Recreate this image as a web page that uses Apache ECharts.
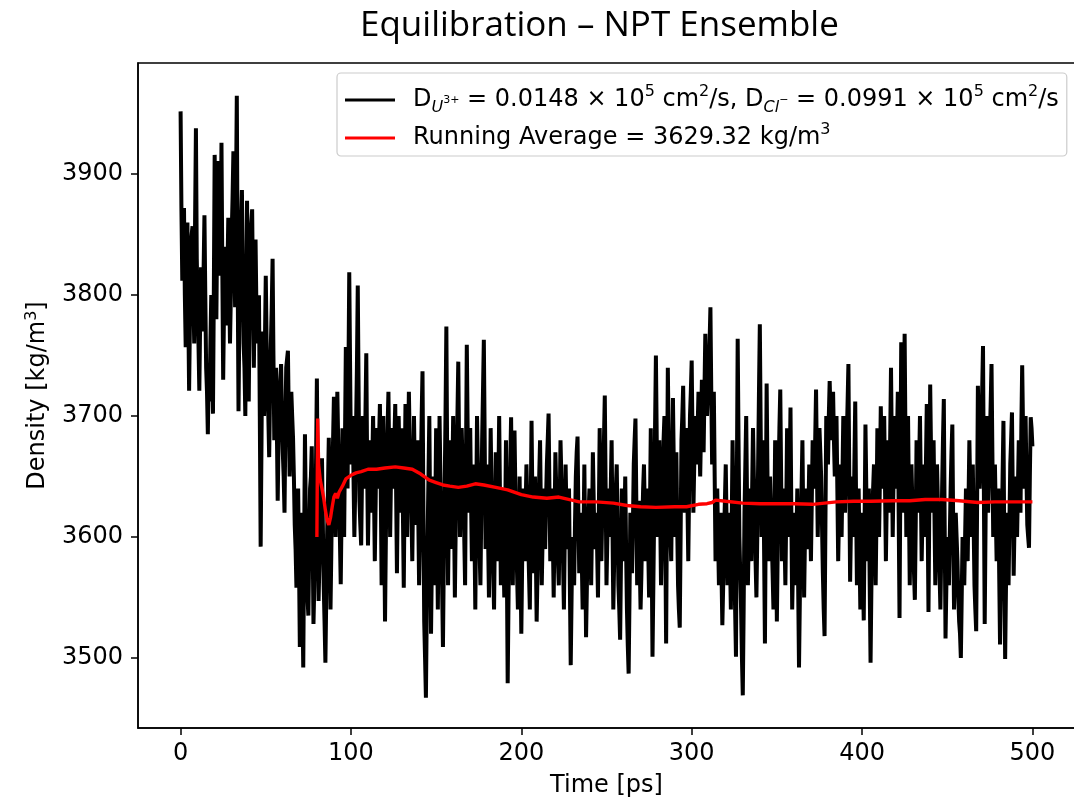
<!DOCTYPE html>
<html>
<head>
<meta charset="utf-8">
<script src="https://cdn.jsdelivr.net/npm/echarts@6/dist/echarts.min.js"></script>
<style>
html,body{margin:0;padding:0;background:#fff;}
#chart{width:1074px;height:801px;}
</style>
</head>
<body>
<div id="chart"></div>
<script>
// ---- data ----
const titleText = 'Equilibration \u2013 NPT Ensemble';
const xAxisTitle = 'Time [ps]';
const yAxisTitle = 'Density [kg/m3]';
const xTickValues = [0, 100, 200, 300, 400, 500];
const yTickValues = [3500, 3600, 3700, 3800, 3900];
const seriesNames = [
  'D_U3+ = 0.0148 \u00d7 10^5 cm^2/s, D_Cl- = 0.0991 \u00d7 10^5 cm^2/s',
  'Running Average = 3629.32 kg/m^3'
];
// density at whole picoseconds, 0 .. 500 ps
const densityValues = [
  3952,3812,3872,3757,3860,3721,3840,3857,3760,3938,
  3790,3721,3823,3770,3866,3740,3685,3712,3800,3702,
  3916,3780,3911,3816,3926,3730,3840,3775,3864,3760,
  3850,3919,3790,3965,3704,3840,3887,3760,3700,3878,
  3712,3850,3871,3740,3846,3760,3800,3592,3770,3700,
  3816,3720,3666,3760,3830,3680,3740,3630,3720,3743,
  3670,3620,3740,3754,3650,3720,3682,3610,3558,3640,
  3509,3620,3492,3685,3560,3535,3640,3675,3528,3600,
  3731,3547,3620,3665,3560,3496,3600,3682,3540,3650,
  3716,3600,3720,3640,3561,3690,3600,3757,3640,3819,
  3660,3700,3600,3690,3808,3630,3593,3700,3640,3752,
  3593,3680,3620,3700,3580,3690,3640,3710,3560,3700,
  3530,3660,3720,3600,3690,3640,3710,3570,3700,3620,
  3690,3558,3710,3600,3720,3650,3580,3700,3610,3680,
  3560,3650,3737,3530,3467,3600,3700,3520,3650,3560,
  3690,3540,3700,3600,3509,3640,3774,3560,3680,3590,
  3700,3550,3660,3745,3600,3690,3640,3560,3759,3620,
  3690,3580,3660,3540,3700,3620,3560,3680,3763,3590,
  3660,3550,3690,3600,3540,3670,3580,3700,3560,3640,
  3550,3680,3479,3620,3699,3560,3688,3600,3540,3650,
  3520,3640,3580,3660,3600,3540,3696,3570,3650,3530,
  3620,3680,3560,3640,3590,3660,3702,3580,3640,3550,
  3670,3600,3560,3680,3620,3540,3660,3590,3640,3494,
  3600,3560,3650,3683,3570,3620,3540,3660,3517,3600,
  3640,3560,3670,3590,3620,3550,3690,3580,3650,3717,
  3560,3640,3600,3680,3540,3620,3660,3560,3515,3640,
  3580,3650,3540,3487,3620,3570,3660,3698,3560,3630,
  3540,3610,3660,3580,3640,3550,3690,3501,3620,3750,
  3600,3680,3560,3650,3700,3512,3740,3620,3580,3715,
  3600,3670,3560,3525,3680,3725,3620,3690,3580,3700,
  3746,3620,3700,3660,3720,3650,3730,3670,3768,3700,
  3740,3790,3660,3720,3580,3640,3560,3620,3527,3600,
  3660,3560,3620,3540,3680,3580,3501,3764,3600,3540,
  3469,3620,3700,3560,3640,3580,3690,3620,3550,3660,
  3776,3600,3680,3512,3727,3580,3650,3600,3540,3680,
  3530,3650,3722,3580,3640,3560,3690,3600,3707,3540,
  3620,3560,3640,3492,3600,3680,3550,3640,3590,3660,
  3580,3680,3640,3722,3600,3690,3650,3570,3518,3700,
  3660,3729,3680,3720,3650,3700,3580,3660,3600,3700,
  3620,3680,3743,3563,3650,3600,3712,3560,3640,3540,
  3620,3531,3693,3580,3640,3496,3620,3660,3560,3690,
  3600,3708,3640,3700,3580,3680,3620,3740,3600,3700,
  3640,3720,3533,3761,3620,3768,3600,3700,3560,3660,
  3600,3548,3680,3620,3700,3580,3660,3600,3710,3538,
  3726,3620,3680,3560,3660,3600,3540,3640,3714,3516,
  3600,3560,3640,3693,3540,3620,3580,3530,3500,3600,
  3560,3640,3580,3680,3600,3660,3560,3522,3725,3640,
  3680,3758,3528,3700,3620,3680,3743,3600,3660,3580,
  3640,3511,3600,3696,3499,3620,3560,3660,3703,3568,
  3650,3600,3680,3620,3742,3640,3700,3610,3591,3699,
  3675
];
// density at half picoseconds, 0.5 .. 499.5 ps
const densityHalfValues = [
  3870,3840,3800,3810,3790,3780,3850,3800,3860,3830,
  3760,3780,3790,3820,3800,3720,3740,3760,3750,3800,
  3850,3860,3870,3840,3820,3790,3800,3820,3810,3800,
  3880,3840,3880,3820,3780,3860,3820,3740,3790,3800,
  3790,3860,3800,3800,3790,3780,3700,3680,3740,3760,
  3760,3700,3720,3790,3750,3710,3690,3680,3730,3700,
  3650,3690,3740,3700,3690,3700,3650,3590,3600,3580,
  3560,3550,3590,3620,3550,3590,3650,3600,3560,3660,
  3640,3580,3640,3610,3530,3550,3640,3610,3590,3680,
  3660,3660,3680,3600,3620,3640,3680,3700,3730,3740,
  3680,3650,3640,3740,3720,3610,3650,3670,3700,3660,
  3640,3650,3660,3640,3630,3670,3680,3640,3630,3610,
  3600,3690,3660,3650,3660,3680,3640,3640,3660,3650,
  3620,3640,3650,3670,3680,3620,3640,3650,3640,3620,
  3600,3700,3630,3500,3540,3650,3610,3580,3600,3620,
  3610,3620,3650,3560,3580,3700,3660,3620,3630,3650,
  3620,3610,3700,3670,3650,3660,3600,3660,3690,3650,
  3630,3620,3600,3620,3660,3590,3620,3720,3680,3620,
  3600,3620,3640,3570,3610,3620,3640,3630,3600,3590,
  3610,3580,3550,3660,3630,3620,3640,3570,3590,3580,
  3580,3610,3620,3630,3570,3620,3630,3610,3590,3570,
  3650,3620,3600,3610,3630,3680,3640,3610,3600,3610,
  3640,3580,3620,3650,3580,3600,3620,3610,3560,3550,
  3580,3610,3670,3620,3600,3580,3600,3590,3560,3620,
  3600,3610,3630,3600,3590,3620,3630,3620,3680,3640,
  3600,3620,3640,3610,3580,3640,3610,3540,3580,3610,
  3610,3590,3510,3550,3600,3610,3680,3630,3590,3580,
  3570,3640,3620,3610,3590,3620,3590,3560,3690,3680,
  3640,3620,3600,3680,3600,3630,3680,3600,3650,3660,
  3640,3610,3540,3600,3700,3670,3650,3630,3640,3720,
  3680,3660,3680,3690,3680,3690,3700,3720,3730,3720,
  3760,3720,3690,3650,3610,3600,3590,3570,3560,3630,
  3610,3590,3580,3610,3630,3540,3640,3680,3570,3500,
  3540,3660,3630,3600,3610,3640,3650,3580,3600,3720,
  3690,3640,3590,3620,3650,3610,3620,3570,3610,3600,
  3590,3690,3650,3610,3600,3620,3640,3650,3620,3580,
  3590,3600,3560,3550,3640,3610,3600,3610,3620,3620,
  3630,3660,3680,3660,3640,3670,3610,3540,3610,3680,
  3700,3700,3700,3680,3670,3640,3620,3630,3650,3660,
  3650,3710,3650,3610,3620,3660,3630,3600,3590,3580,
  3570,3610,3640,3610,3560,3560,3640,3610,3620,3650,
  3650,3670,3670,3640,3630,3650,3680,3670,3650,3670,
  3680,3620,3650,3690,3700,3680,3650,3630,3610,3630,
  3570,3610,3650,3660,3640,3620,3630,3660,3620,3630,
  3670,3650,3620,3610,3630,3570,3590,3680,3610,3560,
  3580,3600,3670,3610,3580,3600,3550,3520,3550,3580,
  3600,3610,3630,3640,3630,3610,3540,3620,3690,3660,
  3720,3640,3610,3660,3650,3710,3670,3630,3620,3610,
  3570,3560,3650,3590,3560,3590,3610,3680,3630,3610,
  3620,3640,3650,3690,3690,3670,3650,3600,3650,3690
];
// running average (red)
const runAvgTime = [80,80.5,81,82,83,84,85,86,87,88,89,90,91,92,93,94,95,97,100,103,
  106,110,115,120,126,131,136,141,146,150,154,158,163,168,173,178,185,192,200,207,
  215,222,234,244,254,262,270,279,290,297,304,309,312,314,320,330,340,350,360,371,
  385,395,405,418,428,437,447,457,468,478,490,500];
const runAvgValue = [3600,3698,3660,3647,3640,3632,3622,3614,3610,3616,3625,3633,3636,3632,3637,3636,3642,3648,3651,3653,
  3654,3656,3656,3657,3658,3657,3656,3652,3647,3645,3643,3642,3641,3642,3644,3643,3641,3639,3635,3633,
  3632,3633,3629,3629,3628,3626,3625,3624.5,3625,3625,3627,3627.5,3628.5,3630.5,3629.5,3628,3627.5,3627.5,3627.5,3627,
  3629,3629.5,3629.5,3630,3630,3631,3631,3630,3628.5,3629,3629,3629];

// ---- build ----
const densityData = [];
densityValues.forEach((v, i) => {
  densityData.push([i, v]);
  if (i < densityHalfValues.length) densityData.push([i + 0.5, densityHalfValues[i]]);
});
const runAvgData = runAvgTime.map((t, i) => [t, runAvgValue[i]]);

const FONT = 'DejaVu Sans';
const FS = 24;
const chart = echarts.init(document.getElementById('chart'), null, {renderer: 'canvas'});
chart.setOption({
  animation: false,
  backgroundColor: '#ffffff',
  title: {
    text: titleText,
    left: 355, top: 4,
    textStyle: {fontFamily: 'Open Sans', fontSize: 35, fontWeight: 'normal', color: '#000'}
  },
  grid: {
    left: 138, top: 63, width: 937, height: 665,
    outerBoundsMode: 'none', containLabel: false,
    show: true, borderColor: '#000', borderWidth: 1.5, backgroundColor: 'transparent'
  },
  legend: {
    data: seriesNames,
    orient: 'vertical',
    left: 337, top: 73,
    padding: [11, 8, 6, 8],
    itemGap: 6,
    itemWidth: 50, itemHeight: 3,
    icon: 'rect',
    backgroundColor: 'rgba(255,255,255,0.85)',
    borderColor: '#cccccc', borderWidth: 1.2, borderRadius: 4,
    formatter: function (name) {
      if (name === seriesNames[0]) {
        return '{sp| }{t|D}{si|U}{ss|3+}{t| = 0.0148 \u00d7 10}{sup|5}{t| cm}{sup|2}{t|/s, D}{si|Cl}{ss|\u2212}{t| = 0.0991 \u00d7 10}{sup|5}{t| cm}{sup|2}{t|/s}';
      }
      return '{sp| }{t|Running Average = 3629.32 kg/m}{sup|3}';
    },
    textStyle: {
      fontFamily: FONT, fontSize: FS, color: '#000',
      rich: {
        sp: {width: 13, fontSize: FS, lineHeight: 32},
        t: {fontFamily: FONT, fontSize: FS, color: '#000', lineHeight: 32, verticalAlign: 'middle'},
        si: {fontFamily: FONT, fontSize: 16, fontStyle: 'italic', color: '#000', lineHeight: 20, verticalAlign: 'bottom'},
        ss: {fontFamily: FONT, fontSize: 11, color: '#000', lineHeight: 14, verticalAlign: 'middle'},
        sup: {fontFamily: FONT, fontSize: 16, color: '#000', lineHeight: 17, verticalAlign: 'top'}
      }
    }
  },
  xAxis: {
    type: 'value', min: -25, max: 525,
    name: xAxisTitle, nameLocation: 'middle', nameGap: 46,
    nameTextStyle: {fontFamily: FONT, fontSize: FS, color: '#000'},
    axisLine: {show: true, onZero: false, lineStyle: {color: '#000', width: 1.5}},
    axisTick: {show: true, inside: false, length: 7, customValues: xTickValues, lineStyle: {color: '#000', width: 1.5}},
    axisLabel: {show: true, margin: 14, customValues: xTickValues, formatter: v => String(v), fontFamily: FONT, fontSize: FS, color: '#000'},
    splitLine: {show: false}
  },
  yAxis: {
    type: 'value', min: 3442, max: 3992,
    name: '{a|Density [kg/m}{b|3}{a|]}', nameLocation: 'middle', nameGap: 86, nameRotate: 90,
    nameTextStyle: {
      fontFamily: FONT, fontSize: FS, color: '#000',
      rich: {
        a: {fontFamily: FONT, fontSize: FS, color: '#000', lineHeight: 28, verticalAlign: 'middle'},
        b: {fontFamily: FONT, fontSize: 16, color: '#000', lineHeight: 14, verticalAlign: 'top'}
      }
    },
    axisLine: {show: true, onZero: false, lineStyle: {color: '#000', width: 1.5}},
    axisTick: {show: true, inside: false, length: 7, customValues: yTickValues, lineStyle: {color: '#000', width: 1.5}},
    axisLabel: {show: true, margin: 15, customValues: yTickValues, formatter: v => String(v), fontFamily: FONT, fontSize: FS, color: '#000'},
    splitLine: {show: false}
  },
  series: [
    {
      name: seriesNames[0], type: 'line', data: densityData,
      showSymbol: false, symbol: 'none',
      large: false, progressive: 0,
      lineStyle: {color: '#000000', width: 4}, itemStyle: {color: '#000000'},
      z: 2
    },
    {
      name: seriesNames[1], type: 'line', data: runAvgData,
      showSymbol: false, symbol: 'none',
      lineStyle: {color: '#ff0000', width: 3.4}, itemStyle: {color: '#ff0000'},
      z: 3
    }
  ]
});
</script>
</body>
</html>
